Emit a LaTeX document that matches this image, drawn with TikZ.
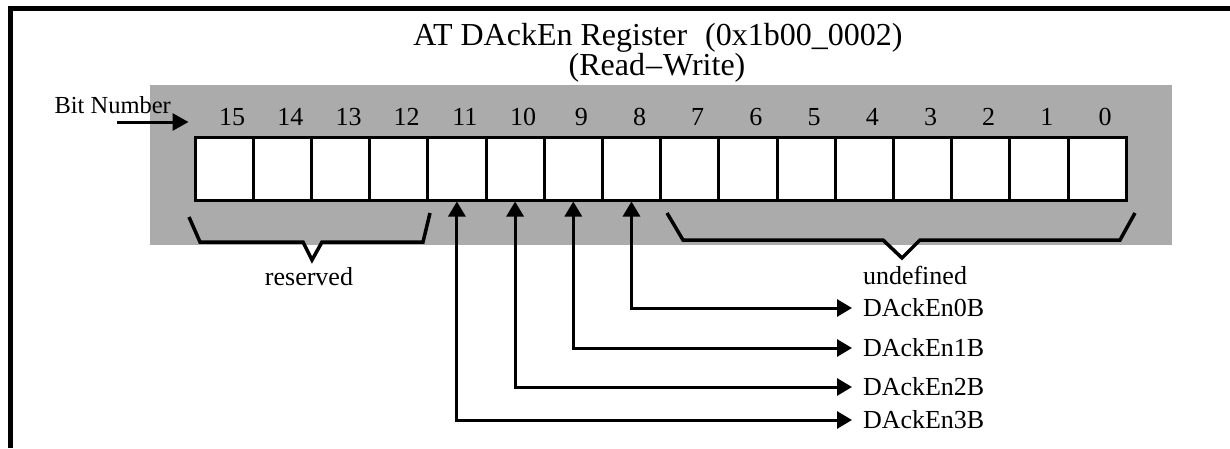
\documentclass[tikz,border=0pt]{standalone}
\usepackage{fontspec}
\setmainfont{Liberation Serif}
\usetikzlibrary{arrows.meta,positioning}
\definecolor{screen-gray}{HTML}{ABABAB}

\begin{document}
\begin{tikzpicture}[x=1pt, y=-1pt, line width=3pt,
    cell/.style={draw, fill=white, minimum width=58.2pt, minimum height=63pt, inner sep=0pt},
    lbl/.style={font=\fontsize{26}{28}\selectfont, inner sep=0pt},
    sig/.style={lbl, anchor=west, inner xsep=11pt, outer sep=0pt},
    link/.style={{Triangle[length=15pt,width=17pt]}-{Triangle[length=15pt,width=17pt]}}]
    \useasboundingbox (0,0) rectangle (1230,448);
    \draw[line width=5pt] (10,448) -- (10,8) -- (1230,8);

    % title
    \node[font=\fontsize{32}{32}\selectfont, anchor=base, inner sep=0pt] (title) at (658,45) {AT DAckEn Register\hspace{18pt}(0x1b00\_0002)};
    \node[font=\fontsize{32}{32}\selectfont, anchor=base, inner sep=0pt] (mode) at (657,75.5) {(Read\kern1pt--\kern1ptWrite)};

    % shaded field
    \fill[screen-gray] (150,85) rectangle (1172,245);

    % register cells
    \foreach \i in {0,...,15} {
        \node[cell] (b\i) at ({224.1+58.2*(15-\i)}, 168.5) {};
        \node[lbl] (n\i) at ({232.1+58.2*(15-\i)}, 117) {\i};
    }

    \node[lbl, font=\fontsize{24.5}{28}\selectfont, anchor=base west] (bitnum) at (53,113) {Bit Number};
    \coordinate (bitfrom) at (117,122);
    \draw[-{Triangle[length=16pt,width=17pt]}, shorten >=5pt] (bitfrom) -- (bitfrom -| b15.west);

    % fields
    \draw[line width=3.5pt] (189,217) -- (200,242) -- (303,242) -- (312,260) -- (322,242) -- (423,242) -- (430,213);
    \draw[line width=3.5pt] (667,213) -- (683,240) -- (883,240) -- (902,258) -- (920,240) -- (1120,240) -- (1135,213);
    \node[lbl] (rsv) at (309,277) {reserved};
    \node[lbl] (undef) at (915,275) {undefined};

    % enable bits
    \node[sig] (en0) at (852,308) {DAckEn0B};
    \node[sig] (en1) at (852,348) {DAckEn1B};
    \node[sig] (en2) at (852,387) {DAckEn2B};
    \node[sig] (en3) at (852,420) {DAckEn3B};
    \draw[link] (b8.south) |- (en0.west);
    \draw[link] (b9.south) |- (en1.west);
    \draw[link] (b10.south) |- (en2.west);
    \draw[link] (b11.south) |- (en3.west);
\end{tikzpicture}
\end{document}
